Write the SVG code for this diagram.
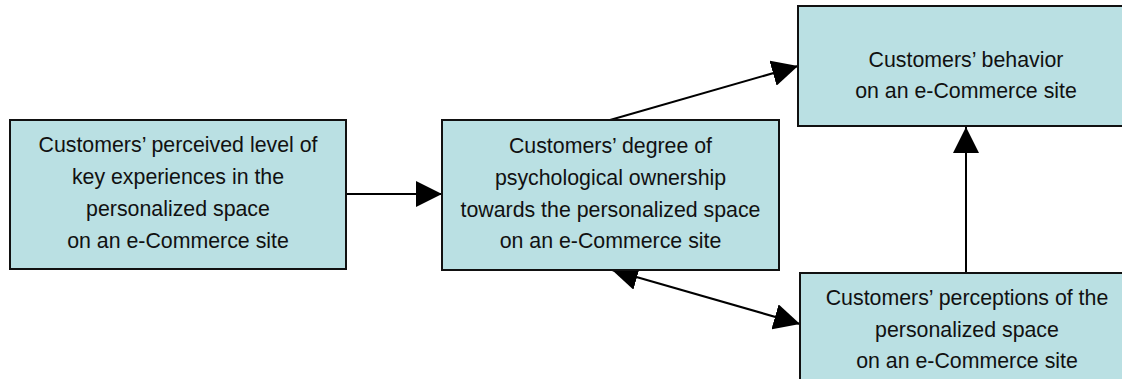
<svg xmlns="http://www.w3.org/2000/svg" width="1122" height="379" viewBox="0 0 1122 379">
<style>
.box{fill:#BAE0E3;stroke:#111;stroke-width:2}
.t{font-family:"Liberation Sans",Arial,sans-serif;font-size:21.33px;fill:#111;text-anchor:middle}
.c{stroke:#000;stroke-width:2;fill:none}
</style>
<defs>
<marker id="ah" markerUnits="userSpaceOnUse" markerWidth="27" markerHeight="26" refX="26" refY="13" orient="auto-start-reverse" viewBox="0 0 27 26">
<path d="M0,0 L26,13 L0,26 z" fill="#000"/>
</marker>
</defs>
<g id="connectors">
<line class="c" x1="346" y1="194" x2="442" y2="194" marker-end="url(#ah)"/>
<line class="c" x1="610" y1="120" x2="798" y2="66" marker-end="url(#ah)"/>
<line class="c" x1="966" y1="273" x2="966" y2="127" marker-end="url(#ah)"/>
<line class="c" x1="612" y1="270" x2="800" y2="324" marker-start="url(#ah)" marker-end="url(#ah)"/>
</g>
<g id="node1">
<rect class="box" x="10" y="120" width="336" height="149"/>
<text class="t" x="178" y="152">Customers’ perceived level of</text>
<text class="t" x="178" y="184">key experiences in the</text>
<text class="t" x="178" y="216">personalized space</text>
<text class="t" x="178" y="248">on an e-Commerce site</text>
</g>
<g id="node2">
<rect class="box" x="442" y="120" width="337" height="150"/>
<text class="t" x="610.5" y="153">Customers’ degree of</text>
<text class="t" x="610.5" y="185">psychological ownership</text>
<text class="t" x="610.5" y="217">towards the personalized space</text>
<text class="t" x="610.5" y="248">on an e-Commerce site</text>
</g>
<g id="node3">
<rect class="box" x="798" y="6" width="338" height="120"/>
<text class="t" x="966" y="67">Customers’ behavior</text>
<text class="t" x="966" y="98">on an e-Commerce site</text>
</g>
<g id="node4">
<rect class="box" x="800" y="273" width="336" height="110"/>
<text class="t" x="967" y="305">Customers’ perceptions of the</text>
<text class="t" x="967" y="337">personalized space</text>
<text class="t" x="967" y="368">on an e-Commerce site</text>
</g>
</svg>
